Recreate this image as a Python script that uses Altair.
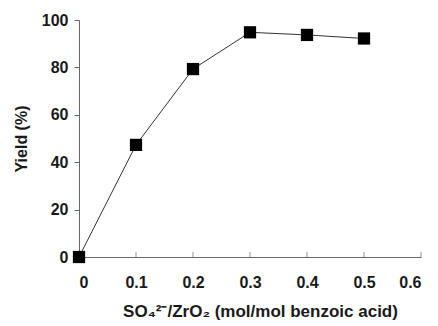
import altair as alt
import pandas as pd

ratio = [0.0, 0.1, 0.2, 0.3, 0.4, 0.5]
yield_pct = [0.0, 47.3, 79.3, 94.8, 93.7, 92.2]
x_ticks = [0.1, 0.2, 0.3, 0.4, 0.5, 0.6]

df = pd.DataFrame({"ratio": ratio, "yield": yield_pct})
ticks_df = pd.DataFrame({"t": x_ticks})

FONT = "Liberation Sans"

x_enc = alt.X("ratio:Q",
              scale=alt.Scale(domain=[0, 0.6], nice=False),
              axis=alt.Axis(values=[0, 0.1, 0.2, 0.3, 0.4, 0.5, 0.6], format="~g",
                            title="SO₄²⁻/ZrO₂ (mol/mol benzoic acid)",
                            titleFontSize=17, titleX=181, titleAlign="center",
                            ticks=False, labelPadding=17, titlePadding=13,
                            domainColor="#666666", grid=False))
y_enc = alt.Y("yield:Q",
              scale=alt.Scale(domain=[0, 100], nice=False),
              axis=alt.Axis(values=[0, 20, 40, 60, 80, 100], title="Yield (%)",
                            tickSize=5, tickColor="#666666", domainColor="#666666",
                            labelPadding=6, titlePadding=12, grid=False))

line = alt.Chart(df).mark_line(color="#333333", strokeWidth=1).encode(x=x_enc, y=y_enc)
pts = alt.Chart(df).mark_point(shape="square", filled=True, color="black",
                               size=150, opacity=1).encode(x="ratio:Q", y="yield:Q")
ticks = alt.Chart(ticks_df).mark_tick(orient="vertical", size=5, color="#666666",
                                      thickness=1, yOffset=-2.5).encode(
    x="t:Q", y=alt.datum(0))

chart = alt.layer(line, ticks, pts).properties(
    width=342, height=237,
    autosize=alt.AutoSizeParams(type="none"),
    padding={"left": 79, "top": 20, "right": 17, "bottom": 69},
).configure_view(stroke=None).configure_axis(
    labelFont=FONT, titleFont=FONT, labelFontSize=16, titleFontSize=16,
    labelFontWeight="bold", titleFontWeight="bold",
    labelColor="#1a1a1a", titleColor="#1a1a1a", domainWidth=1,
)

chart.save("out.html", embed_options={"renderer": "svg", "actions": False})
